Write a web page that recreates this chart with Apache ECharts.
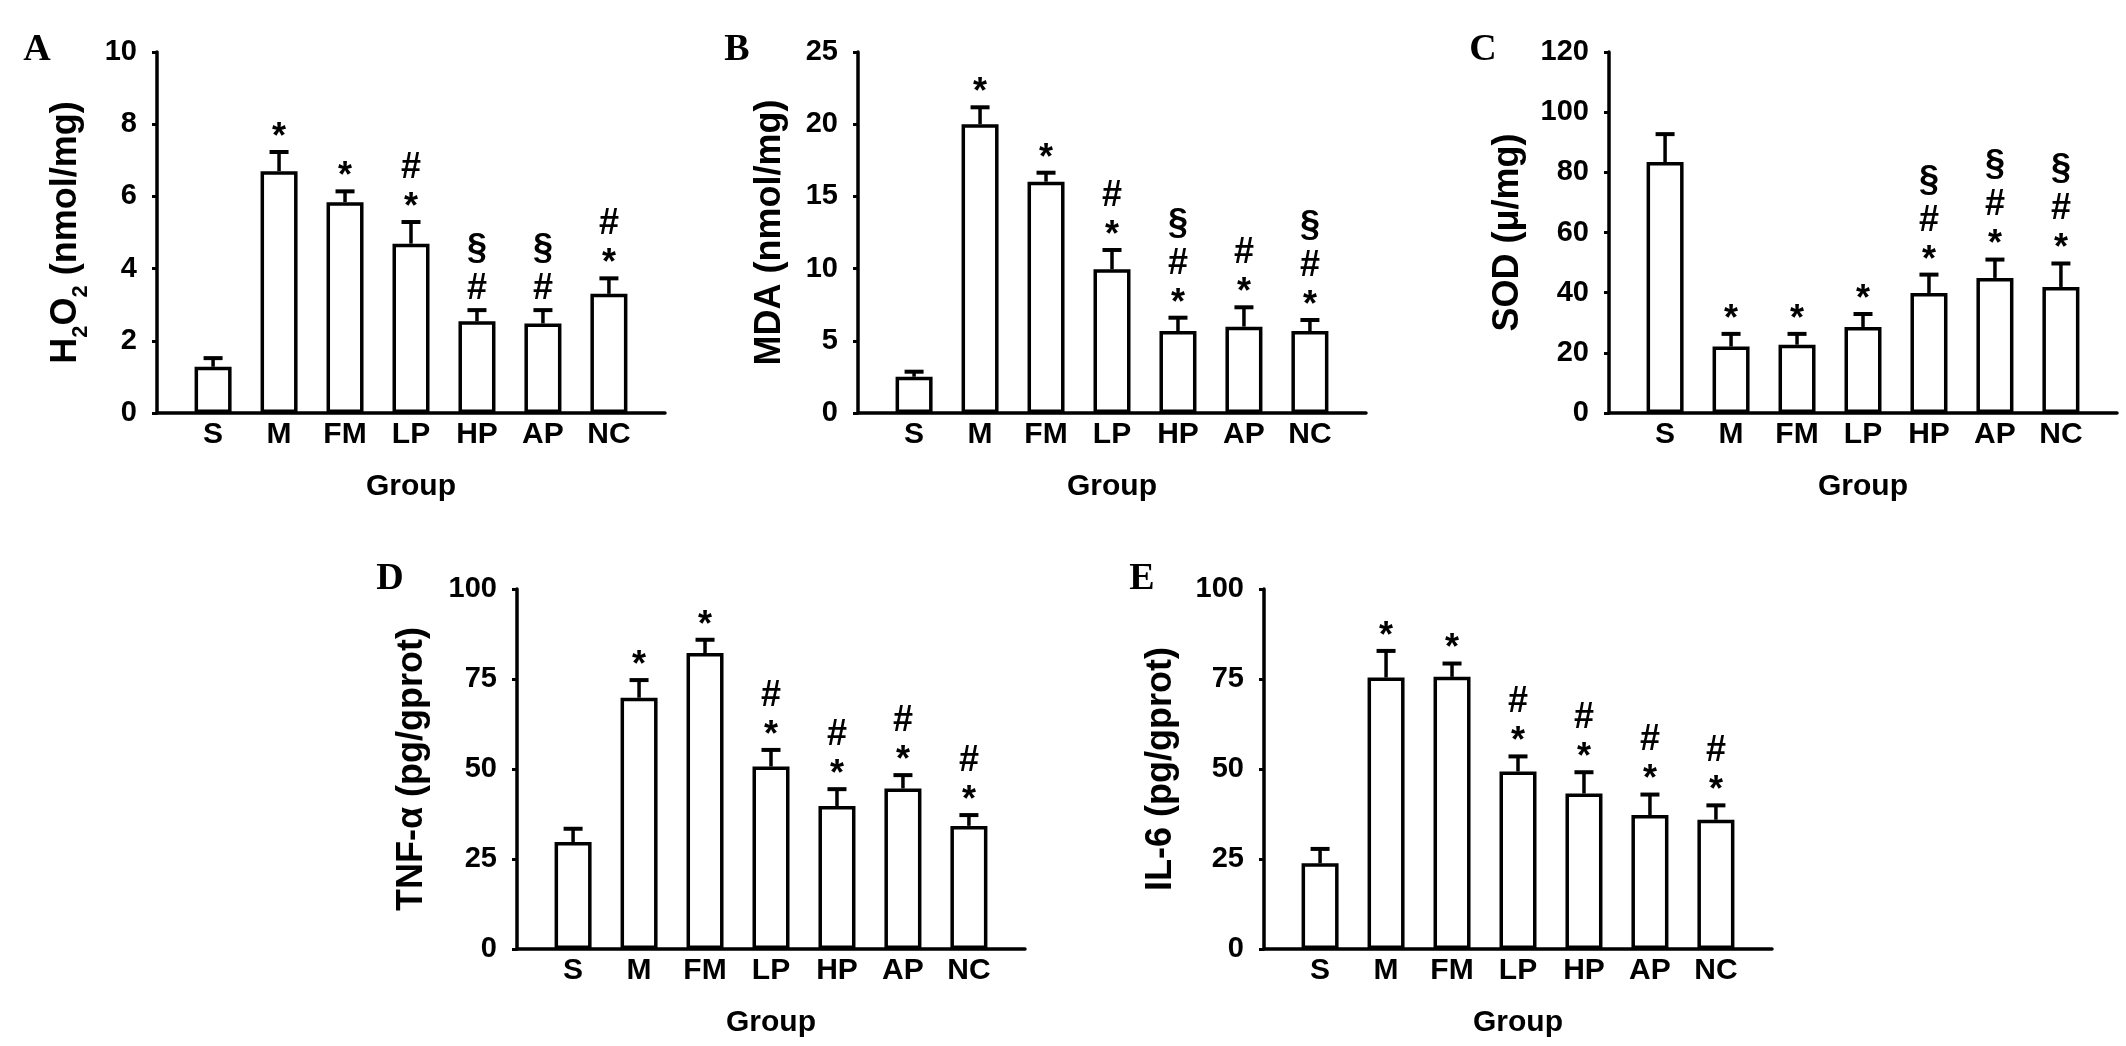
<!DOCTYPE html>
<html><head><meta charset="utf-8">
<script src="https://cdn.jsdelivr.net/npm/echarts/dist/echarts.min.js"></script>
<style>html,body{margin:0;padding:0;background:#fff}#c{width:2126px;height:1046px}</style>
</head><body><div id="c"></div>
<script>
// ---------- data ----------
const groups = ['S', 'M', 'FM', 'LP', 'HP', 'AP', 'NC'];

const h2o2Mean = [1.28, 6.70, 5.84, 4.69, 2.54, 2.48, 3.30];
const h2o2Err  = [0.24, 0.53, 0.30, 0.60, 0.31, 0.37, 0.43];
const h2o2Marks = ['', '*', '*', '*#', '#§', '#§', '*#'];
const h2o2Ticks = [0, 2, 4, 6, 8, 10];

const mdaMean = [2.51, 20.0, 16.02, 9.95, 5.68, 5.98, 5.68];
const mdaErr  = [0.35, 1.17, 0.62, 1.34, 0.92, 1.34, 0.76];
const mdaMarks = ['', '*', '*', '*#', '*#§', '*#', '*#§'];
const mdaTicks = [0, 5, 10, 15, 20, 25];

const sodMean = [83.4, 22.1, 22.7, 28.6, 39.9, 44.9, 41.9];
const sodErr  = [9.3, 4.2, 3.6, 4.3, 6.1, 6.1, 7.8];
const sodMarks = ['', '*', '*', '*', '*#§', '*#§', '*#§'];
const sodTicks = [0, 20, 40, 60, 80, 100, 120];

const tnfMean = [29.7, 69.8, 82.2, 50.7, 39.7, 44.6, 34.2];
const tnfErr  = [3.7, 4.9, 3.7, 4.6, 4.7, 3.7, 3.0];
const tnfMarks = ['', '*', '*', '*#', '*#', '*#', '*#'];
const tnfTicks = [0, 25, 50, 75, 100];

const il6Mean = [23.8, 75.4, 75.6, 49.3, 43.2, 37.2, 35.9];
const il6Err  = [4.0, 7.4, 3.7, 4.2, 5.9, 5.7, 4.0];
const il6Marks = ['', '*', '*', '*#', '*#', '*#', '*#'];
const il6Ticks = [0, 25, 50, 75, 100];

const panelLetters = ['A', 'B', 'C', 'D', 'E'];
const yTitles = ['H{sub|2}O{sub|2} (nmol/mg)', 'MDA (nmol/mg)', 'SOD (μ/mg)', 'TNF-α (pg/gprot)', 'IL-6 (pg/gprot)'];
const xTitle = 'Group';

// ---------- layout ----------
const SANS = '"Liberation Sans", Arial, Helvetica, sans-serif';
const SERIF = '"Liberation Serif", "Times New Roman", serif';
const panels = [
  {mean: h2o2Mean, err: h2o2Err, marks: h2o2Marks, ticks: h2o2Ticks, grid: {left: 157, top: 52, width: 508, height: 361}, nameGap: 65, letter: [37, 50]},
  {mean: mdaMean, err: mdaErr, marks: mdaMarks, ticks: mdaTicks, grid: {left: 858, top: 52, width: 508, height: 361}, nameGap: 62, letter: [737, 50]},
  {mean: sodMean, err: sodErr, marks: sodMarks, ticks: sodTicks, grid: {left: 1609, top: 52, width: 508, height: 361}, nameGap: 75, letter: [1483, 50]},
  {mean: tnfMean, err: tnfErr, marks: tnfMarks, ticks: tnfTicks, grid: {left: 517, top: 589, width: 508, height: 360}, nameGap: 79, letter: [390, 579]},
  {mean: il6Mean, err: il6Err, marks: il6Marks, ticks: il6Ticks, grid: {left: 1264, top: 589, width: 508, height: 360}, nameGap: 77, letter: [1142, 579]}
];

const markFont = 'bold 36px ' + SANS;
const glyphShift = {'*': 7, '#': 0, '§': -3};

function makeRender(marks) {
  return function (params, api) {
    const i = api.value(0), m = api.value(1), e = api.value(2);
    const b = api.coord([i, m]);
    const t = api.coord([i, m + e]);
    const children = [
      {type: 'line', shape: {x1: b[0], y1: b[1], x2: t[0], y2: t[1]}, style: {stroke: '#000', lineWidth: 3.5}},
      {type: 'line', shape: {x1: t[0] - 9.5, y1: t[1], x2: t[0] + 9.5, y2: t[1]}, style: {stroke: '#000', lineWidth: 4}}
    ];
    Array.from(marks[params.dataIndex]).forEach(function (ch, k) {
      const vis = -21 - 33 * k - (ch === '§' ? 4 : 0);
      children.push({
        type: 'text',
        style: {text: ch, x: t[0], y: t[1] + vis + glyphShift[ch], align: 'center', verticalAlign: 'middle', font: markFont, fill: '#000'}
      });
    });
    return {type: 'group', children: children};
  };
}

const option = {
  backgroundColor: '#fff',
  animation: false,
  grid: [], xAxis: [], yAxis: [], series: [],
  graphic: []
};

panels.forEach(function (p, idx) {
  option.grid.push(Object.assign({containLabel: false, outerBoundsMode: 'none'}, p.grid));
  option.xAxis.push({
    type: 'value', gridIndex: idx, min: -0.85, max: 6.85, minInterval: 1, maxInterval: 1,
    axisLine: {show: true, onZero: false, lineStyle: {color: '#000', width: 3.5}},
    axisTick: {show: false}, splitLine: {show: false},
    axisLabel: {
      color: '#000', fontSize: 30, fontWeight: 'bold', fontFamily: SANS, margin: 7,
      showMinLabel: true, showMaxLabel: true,
      formatter: function (v) {
        const r = Math.round(v);
        return (Math.abs(v - r) < 1e-6 && r >= 0 && r < groups.length) ? groups[r] : '';
      }
    },
    name: xTitle, nameLocation: 'middle', nameGap: 59, nameMoveOverlap: false,
    nameTextStyle: {color: '#000', fontSize: 30, fontWeight: 'bold', fontFamily: SANS}
  });
  option.yAxis.push({
    type: 'value', gridIndex: idx,
    min: p.ticks[0], max: p.ticks[p.ticks.length - 1], interval: p.ticks[1] - p.ticks[0],
    axisLine: {show: true, onZero: false, lineStyle: {color: '#000', width: 3.5}},
    axisTick: {show: true, inside: false, length: 5, lineStyle: {color: '#000', width: 3}},
    splitLine: {show: false},
    axisLabel: {color: '#000', fontSize: 29, fontWeight: 'bold', fontFamily: SANS, margin: 20},
    name: yTitles[idx], nameLocation: 'middle', nameGap: p.nameGap, nameRotate: 90, nameMoveOverlap: false,
    nameTextStyle: {
      color: '#000', fontSize: 36, fontWeight: 'bold', fontFamily: SANS, lineHeight: 52,
      rich: {sub: {fontSize: 22, fontWeight: 'bold', fontFamily: SANS, color: '#000', verticalAlign: 'bottom', lineHeight: 22}}
    }
  });
  option.series.push({
    type: 'bar', xAxisIndex: idx, yAxisIndex: idx, silent: true,
    data: p.mean.map(function (v, i) { return [i, v]; }),
    barWidth: 37,
    itemStyle: {color: '#fff', borderColor: '#000', borderWidth: 3.5}
  });
  option.series.push({
    type: 'custom', xAxisIndex: idx, yAxisIndex: idx, silent: true, z: 5, clip: false,
    data: p.mean.map(function (v, i) { return [i, v, p.err[i]]; }),
    renderItem: makeRender(p.marks)
  });
  option.graphic.push({
    type: 'text', x: p.letter[0], y: p.letter[1], silent: true,
    style: {text: panelLetters[idx], font: 'bold 38px ' + SERIF, fill: '#000', align: 'center', verticalAlign: 'middle'}
  });
});

const chart = echarts.init(document.getElementById('c'), null, {renderer: 'canvas'});
chart.setOption(option);
</script>
</body></html>
